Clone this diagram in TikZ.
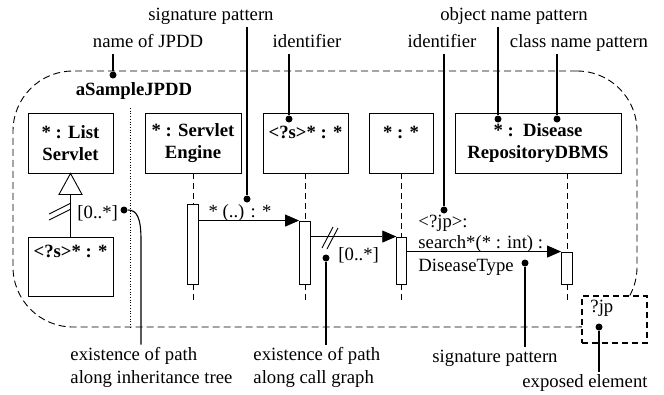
\documentclass[tikz,border=0pt]{standalone}
\usepackage{fontspec}
\setmainfont{Liberation Serif}
\usetikzlibrary{arrows.meta}
\newcommand{\dfont}{\fontsize{18.7}{22}\selectfont}
\begin{document}
\begin{tikzpicture}[x=1pt,y=-1pt, line width=0.9pt,
  every node/.style={font=\dfont},
  objbox/.style={draw, inner sep=0pt, minimum height=60pt, align=center, font=\dfont\bfseries},
  actbox/.style={draw, fill=white, inner sep=0pt, minimum width=11pt},
  life/.style={dash pattern=on 6pt off 4pt},
  msg/.style={-{Triangle[length=14pt,width=12pt]}},
  note/.style={inner sep=2pt, text height=13pt, text depth=5pt},
  plain/.style={inner sep=0pt},
  blob/.style={circle, fill, inner sep=0pt, minimum size=7pt},
  lead/.style={line width=1.1pt}]
\useasboundingbox (0,0) rectangle (664,394);

% frame of the JPDD
\node[draw, dash pattern=on 7pt off 4pt, rounded corners=60pt, inner sep=0pt,
      minimum width=624pt, minimum height=256pt] (frame) at (325,199) {};
\node[anchor=base, font=\dfont\bfseries] (jname) at (134,95) {aSampleJPDD};
\draw[dotted, line width=0.7pt] (130,108) -- (130,0 |- frame.south);

% objects
\node[objbox, minimum width=85pt] (ls) at (70.5,143) {* : List\\Servlet};
\node[objbox, minimum width=96pt] (se) at (193,143) {* : Servlet\\Engine};
\node[objbox, minimum width=85pt] (sb) at (305.5,143) {<?s>* : *\\\mbox{}};
\node[objbox, minimum width=64pt] (aa) at (401,143) {* : *\\\mbox{}};
\node[objbox, minimum width=166pt] (dr) at (538,143) {* :~~Disease\\RepositoryDBMS};
\node[objbox, minimum width=85pt, minimum height=59pt] (sb2) at (70.5,266.5) {<?s>* : *\\[7.6pt]\mbox{}};

% inheritance
\draw[fill=white] (ls.south) -- ++(11.5,21) -- ++(-23,0) -- cycle;
\path (ls.south) ++(0,21) coordinate (tb);
\draw (tb) -- (sb2.north);
\draw (49,214) -- (71,203);
\draw (49,220) -- (71,209);
\node[plain, anchor=base west] (m0) at (77,218) {[0..*]};

% activations
\node[actbox, minimum height=80pt] (a1) at (193,244) {};
\node[actbox, minimum height=63pt] (a2) at (305,252.5) {};
\node[actbox, minimum width=10pt, minimum height=47pt] (a3) at (401.7,260.5) {};
\node[actbox, minimum height=32pt] (a4) at (567,268) {};

% lifelines
\draw[life] (se.south) -- (a1.north);
\draw[life] (a1.south) -- (a1.south |- 0,300);
\draw[life] (a2.north |- sb.south) -- (a2.north);
\draw[life] (a2.south) -- (a2.south |- 0,300);
\draw[life] (a3.north |- aa.south) -- (a3.north);
\draw[life] (a3.south) -- (a3.south |- 0,300);
\draw[life] (a4.north |- dr.south) -- (a4.north);
\draw[life] (a4.south) -- (a4.south |- 0,300);

% messages
\draw[msg] (a1.east |- a2.north) -- (a2.north west);
\node[plain, anchor=base] (l1) at (240,217) {* (..) : *};
\draw[msg] (a2.east |- a3.north) -- (a3.north west);
\draw (322,248) -- (333,227);
\draw (327,249) -- (338,228);
\node[plain, anchor=base west] (l2) at (338,260) {[0..*]};
\draw[msg] (a3.east |- a4.north) -- (a4.north west);
\node[plain, anchor=base west] (l3a) at (418,227) {<?jp>:};
\node[plain, anchor=base west] (l3b) at (418,248) {search*(* : int) :};
\node[plain, anchor=base west] (l3c) at (418,271) {DiseaseType};

% exposed element box
\node[draw, fill=white, line width=1.8pt, dash pattern=on 6pt off 4pt, inner sep=0pt,
      minimum width=65pt, minimum height=47pt] (jp) at (614.5,319.5) {};
\node[plain, anchor=base west] (jpt) at (590,312) {?jp};

% annotations (top)
\node[note, anchor=base] (t1) at (211,20) {signature pattern};
\node[note, anchor=base] (t2) at (148,47) {name of JPDD};
\node[note, anchor=base] (t3) at (307,47) {identifier};
\node[note, anchor=base] (t4) at (442,47) {identifier};
\node[note, anchor=base] (t5) at (514,20) {object name pattern};
\node[note, anchor=base] (t6) at (579,47) {class name pattern};

\node[blob] (d1) at (247,199) {};
\node[blob] (d2) at (113,75) {};
\node[blob] (d3) at (289,119) {};
\node[blob] (d4) at (444,210) {};
\node[blob] (d5) at (498,119) {};
\node[blob] (d6) at (557,119) {};
\draw[lead] (t1.south -| d1) -- (d1);
\draw[lead] (t2.south -| d2) -- (d2);
\draw[lead] (t3.south -| d3) -- (d3);
\draw[lead] (t4.south -| d4) -- (d4);
\draw[lead] (t5.south -| d5) -- (d5);
\draw[lead] (t6.south -| d6) -- (d6);

% annotations (bottom)
\node[note, anchor=base west] (b1) at (68,360) {existence of path};
\node[note, anchor=base west] (b2) at (68,383) {along inheritance tree};
\node[note, anchor=base west] (b3) at (251,360) {existence of path};
\node[note, anchor=base west] (b4) at (251,383) {along call graph};
\node[note, anchor=base] (b5) at (495,362) {signature pattern};
\node[note, anchor=base] (b6) at (585,387) {exposed element};

\node[blob] (d7) at (124,210) {};
\node[blob] (d8) at (326,258) {};
\node[blob] (d9) at (525,263) {};
\node[blob] (d10) at (599,327) {};
\draw[lead] (d7) .. controls (137,210) and (141,218) .. (141,240) -- (141,0 |- b1.north);
\draw[lead] (d8) -- (d8 |- b3.north);
\draw[lead] (d9) -- (d9 |- b5.north);
\draw[lead] (d10) -- (d10 |- b6.north);
\end{tikzpicture}
\end{document}
